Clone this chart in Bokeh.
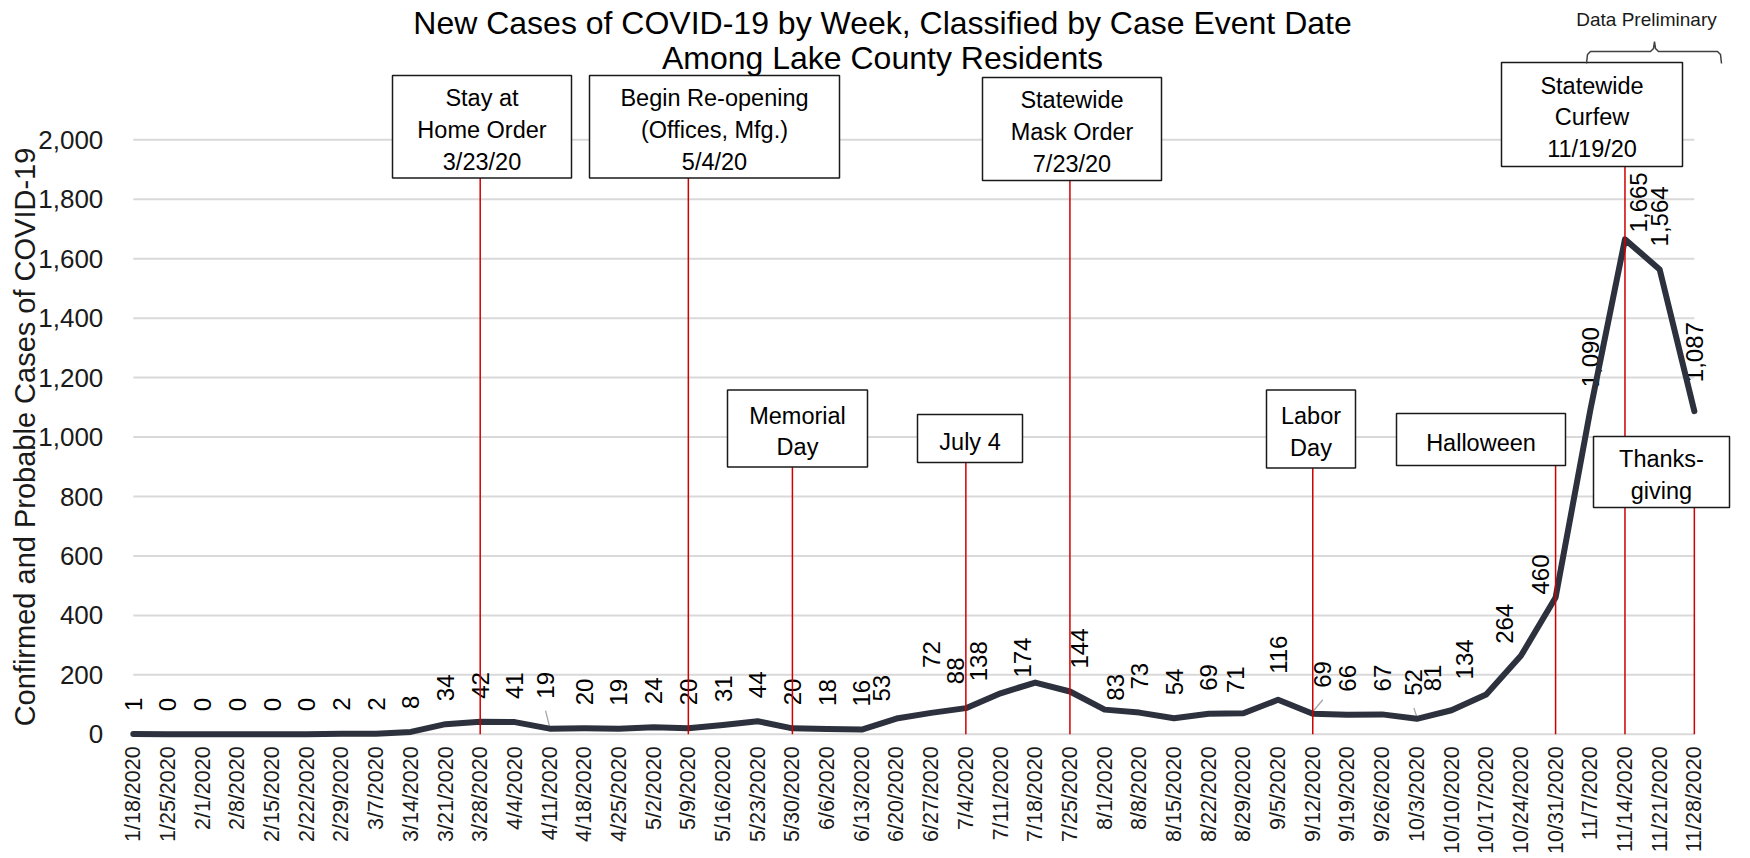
import math
from bokeh.plotting import figure
from bokeh.models import Range1d, FixedTicker, NumeralTickFormatter, ColumnDataSource, LinearAxis
from bokeh.core.properties import value
from bokeh.embed import file_html
from bokeh.resources import INLINE

# ---------------- data ----------------
weeks = ["1/18/2020", "1/25/2020", "2/1/2020", "2/8/2020", "2/15/2020", "2/22/2020",
         "2/29/2020", "3/7/2020", "3/14/2020", "3/21/2020", "3/28/2020", "4/4/2020",
         "4/11/2020", "4/18/2020", "4/25/2020", "5/2/2020", "5/9/2020", "5/16/2020",
         "5/23/2020", "5/30/2020", "6/6/2020", "6/13/2020", "6/20/2020", "6/27/2020",
         "7/4/2020", "7/11/2020", "7/18/2020", "7/25/2020", "8/1/2020", "8/8/2020",
         "8/15/2020", "8/22/2020", "8/29/2020", "9/5/2020", "9/12/2020", "9/19/2020",
         "9/26/2020", "10/3/2020", "10/10/2020", "10/17/2020", "10/24/2020", "10/31/2020",
         "11/7/2020", "11/14/2020", "11/21/2020", "11/28/2020"]
cases = [1, 0, 0, 0, 0, 0, 2, 2, 8, 34, 42, 41, 19, 20, 19, 24, 20, 31, 44, 20, 18, 16,
         53, 72, 88, 138, 174, 144, 83, 73, 54, 69, 71, 116, 69, 66, 67, 52, 81, 134, 264,
         460, 1090, 1665, 1564, 1087]
y_ticks = [0, 200, 400, 600, 800, 1000, 1200, 1400, 1600, 1800, 2000]
title_lines = ["New Cases of COVID-19 by Week, Classified by Case Event Date",
               "Among Lake County Residents"]
y_title = "Confirmed and Probable Cases of COVID-19"
prelim_text = "Data Preliminary"
event_labels = ["Stay at\nHome Order\n3/23/20", "Begin Re-opening\n(Offices, Mfg.)\n5/4/20",
                "Memorial\nDay", "July 4", "Statewide\nMask Order\n7/23/20", "Labor\nDay",
                "Halloween", "Statewide\nCurfew\n11/19/20", "Thanks-\ngiving"]
event_weeks = ["3/28/2020", "5/9/2020", "5/30/2020", "7/4/2020", "7/25/2020",
               "9/12/2020", "10/31/2020", "11/14/2020", "11/28/2020"]

# ---------------- layout ----------------
W, H = 1748, 856
PX_WEEK = 34.69      # px per category step
PX_CASE = 0.29725    # px per case
X0_PX = 132.8        # canvas x of first category
Y0_PX = 733.8        # canvas y of zero cases


def xd(px):
    return (px - X0_PX) / PX_WEEK


def yd(py):
    return (Y0_PX - py) / PX_CASE


# event boxes in canvas px: left, top, right, bottom
EVENT_BOXES = [(392, 75, 571, 177.5), (589, 75, 839, 177.5), (727, 389.5, 867, 466.5),
               (917, 414, 1022, 462), (982, 77, 1161, 180), (1266, 389.5, 1355, 467.5),
               (1396, 413, 1565, 465), (1501, 62, 1682, 166), (1593, 436, 1729, 507)]

LABEL_GAP = 23
LABEL_NUDGES = {12: (-4, -7), 22: (-15, 6), 23: (0, -22), 24: (-10, -1), 25: (-22, 11),
                26: (-13, 18), 27: (10, 0), 28: (11, 14), 32: (-8, 3), 33: (0, -3),
                34: (10, -3), 37: (-3, 0), 38: (-19, 4), 39: (-22, 8), 40: (-16, 11),
                41: (-15, 20), 43: (14, 16), 45: (0, -6)}
LEADERS = [12, 34, 37]

FONT = "Liberation Sans"

p = figure(width=W, height=H, output_backend="svg", toolbar_location=None,
           x_range=Range1d(-X0_PX / PX_WEEK, (W - X0_PX) / PX_WEEK),
           y_range=Range1d(-(H - Y0_PX) / PX_CASE, Y0_PX / PX_CASE),
           x_axis_type=None, y_axis_type=None, min_border=0,
           outline_line_color=None, background_fill_color="white",
           border_fill_color="white")

idx = list(range(len(weeks)))

# gridlines
p.segment(x0=0, x1=len(weeks) - 1, y0=y_ticks, y1=y_ticks, line_color="#d9d9d9", line_width=2)

# data labels
xo, yo = [], []
for i in idx:
    dx, dy = LABEL_NUDGES.get(i, (0, 0))
    xo.append(dx)
    yo.append(-LABEL_GAP + dy)
lab_src = ColumnDataSource(dict(x=idx, y=cases, text=[f"{v:,}" for v in cases], xo=xo, yo=yo))
p.text(x="x", y="y", text="text", x_offset="xo", y_offset="yo", angle=math.pi / 2,
       text_align="left", text_baseline="middle", text_font=value(FONT),
       text_font_size="24px", text_color="black", source=lab_src)

# leader lines
lx0, ly0, lx1, ly1 = [], [], [], []
for i in LEADERS:
    dx, dy = LABEL_NUDGES.get(i, (0, 0))
    lx0.append(i + dx / PX_WEEK)
    ly0.append(cases[i] + (LABEL_GAP - dy - 12) / PX_CASE)
    lx1.append(i)
    ly1.append(cases[i] + 2 / PX_CASE)
p.segment(x0=lx0, y0=ly0, x1=lx1, y1=ly1, line_color="#a6a6a6", line_width=1.3)

# series line
p.line(idx, cases, line_color="#2c313d", line_width=6, line_join="round", line_cap="round")

# event lines and boxes
ev_x = [weeks.index(w) for w in event_weeks]
box_l = [xd(b[0]) for b in EVENT_BOXES]
box_t = [yd(b[1]) for b in EVENT_BOXES]
box_r = [xd(b[2]) for b in EVENT_BOXES]
box_b = [yd(b[3]) for b in EVENT_BOXES]
p.segment(x0=ev_x, x1=ev_x, y0=0, y1=box_b, line_color="#d00000", line_width=1.5)
p.quad(left=box_l, right=box_r, top=box_t, bottom=box_b, fill_color="white",
       line_color="#1a1a1a", line_width=1.5)
p.text(x=[(l + r) / 2 for l, r in zip(box_l, box_r)],
       y=[(t + b) / 2 for t, b in zip(box_t, box_b)], text=event_labels,
       y_offset=3, text_align="center", text_baseline="middle", text_line_height=1.23,
       text_font=value(FONT), text_font_size="23.5px", text_color="black")

# title
p.text(x=[xd(882)] * 2, y=[yd(22), yd(57)], text=title_lines, text_align="center",
       text_baseline="middle", text_font=value(FONT), text_font_size="32px",
       text_color="black")

# data preliminary bracket
p.text(x=[xd(1646)], y=[yd(19)], text=[prelim_text], text_align="center",
       text_baseline="middle", text_font=value(FONT), text_font_size="19px",
       text_color="#1a1a1a")
bx = [1586, 1587, 1590, 1650, 1653, 1654, 1655, 1658, 1717, 1720, 1721]
by = [63, 54, 51, 51, 48, 41, 48, 51, 51, 54, 63]
p.line([xd(v) for v in bx], [yd(v) for v in by], line_color="#404040", line_width=1.5)

# axes
yaxis = LinearAxis(fixed_location=0, bounds=(0, 2000), ticker=FixedTicker(ticks=y_ticks),
                   formatter=NumeralTickFormatter(format="0,0"),
                   axis_line_color=None, major_tick_line_color=None,
                   minor_tick_line_color=None, major_tick_out=0,
                   major_label_standoff=30, major_label_text_font=FONT,
                   major_label_text_font_size="26px", major_label_text_color="#1a1a1a",
                   axis_label=y_title, axis_label_text_font=FONT,
                   axis_label_text_font_size="29px", axis_label_text_font_style="normal",
                   axis_label_text_color="#1a1a1a", axis_label_standoff=-6)
p.add_layout(yaxis, "left")

xaxis = LinearAxis(fixed_location=0, bounds=(0, len(weeks) - 1),
                   ticker=FixedTicker(ticks=idx),
                   major_label_overrides={i: w for i, w in enumerate(weeks)},
                   major_label_orientation=math.pi / 2,
                   axis_line_color=None, major_tick_line_color=None,
                   minor_tick_line_color=None, major_tick_out=0,
                   major_label_standoff=12, major_label_text_font=FONT,
                   major_label_text_font_size="21.5px", major_label_text_color="#1a1a1a")
p.add_layout(xaxis, "below")

open("out.html", "w").write(file_html(p, INLINE))
